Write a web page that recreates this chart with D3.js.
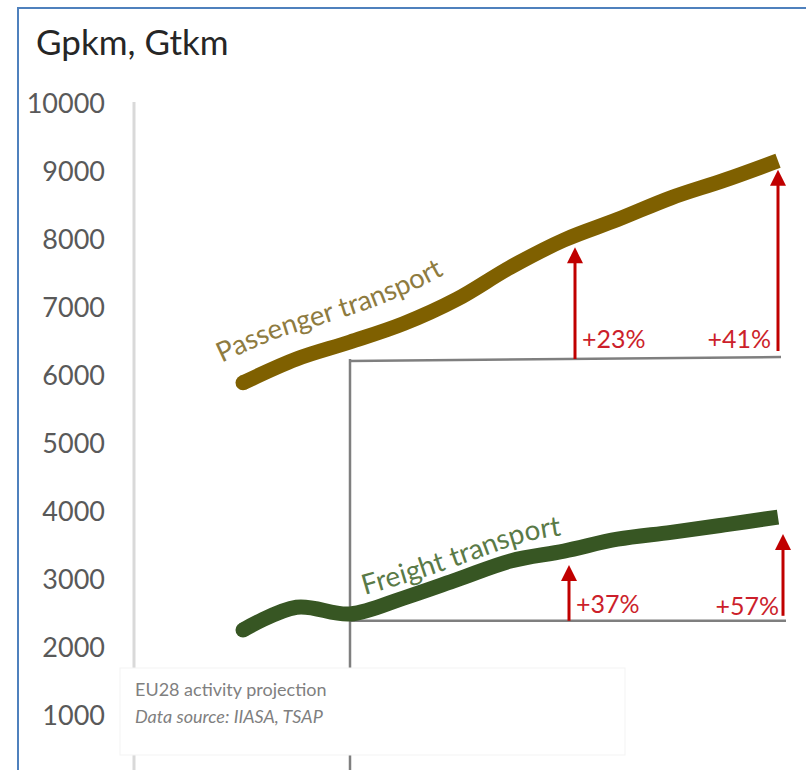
<!DOCTYPE html>
<html>
<head>
<meta charset="utf-8">
<script src="https://cdn.jsdelivr.net/npm/d3@7"></script>
<style>
  body { margin: 0; background: #fff; }
  svg { display: block; }
  text { font-family: Lato, "Open Sans", sans-serif; }
</style>
</head>
<body>
<svg id="chart" width="806" height="770"></svg>
<script>
// ---- data -------------------------------------------------------------
const years = [2000, 2005, 2010, 2015, 2020, 2025, 2030, 2035, 2040, 2045, 2050];
const passenger = [5900, 6250, 6500, 6770, 7130, 7600, 8000, 8300, 8620, 8880, 9165]; // Gpkm
const freight   = [2265, 2600, 2500, 2735, 3005, 3280, 3425, 3600, 3700, 3810, 3925]; // Gtkm
const yTicks = [1000, 2000, 3000, 4000, 5000, 6000, 7000, 8000, 9000, 10000];

const baseYear = 2010;
const targetYears = [2030, 2050];
const passengerGrowth = [0.23, 0.41];
const freightGrowth = [0.37, 0.57];
const passengerGuide = 6250;   // level of the grey reference line under the passenger curve
const freightGuide = 2400;     // level of the grey reference line under the freight curve

const unitTitle = "Gpkm, Gtkm";
const seriesNames = ["Passenger transport", "Freight transport"];
const noteLines = ["EU28 activity projection", "Data source: IIASA, TSAP"];

// ---- setup ------------------------------------------------------------
const svg = d3.select("#chart");
const x = d3.scaleLinear().domain([2000, 2050]).range([243, 778]);
const y = d3.scaleLinear().domain([0, 10000]).range([784, 104]);

const colors = { passenger: "#7f6000", freight: "#375623",
                 passengerText: "#8e7b40", freightText: "#5a7a47",
                 arrow: "#c00000", guide: "#7f7f7f" };

const passData = years.map((yr, i) => ({ year: yr, v: passenger[i] }));
const freightData = years.map((yr, i) => ({ year: yr, v: freight[i] }));

// outer frame
svg.append("line").attr("x1", 18).attr("x2", 18).attr("y1", 8).attr("y2", 770)
   .attr("stroke", "#4f81bd").attr("stroke-width", 2);
svg.append("line").attr("x1", 17).attr("x2", 806).attr("y1", 8).attr("y2", 8)
   .attr("stroke", "#4f81bd").attr("stroke-width", 2);

// unit title
svg.append("text").attr("x", 36).attr("y", 55)
   .attr("font-size", 35).attr("fill", "#262626").text(unitTitle);

// y axis
const axisG = svg.append("g").attr("transform", "translate(134,0)")
  .call(d3.axisLeft(y).tickValues(yTicks).tickSize(0).tickPadding(29).tickFormat(d3.format("d")));
axisG.select(".domain").attr("stroke", "#d9d9d9").attr("stroke-width", 3)
  .attr("d", `M0,${y(10000) - 2}V770`);
axisG.selectAll(".tick text").attr("font-size", 27).attr("fill", "#595959")
  .attr("font-family", "Lato, 'Open Sans', sans-serif");

// grey reference frame: vertical at the base year, horizontals at the guide levels
const xBase = x(baseYear);
svg.append("line").attr("x1", xBase).attr("x2", xBase)
   .attr("y1", y(passengerGuide)).attr("y2", 770)
   .attr("stroke", colors.guide).attr("stroke-width", 2.5);
svg.append("line").attr("x1", xBase - 1).attr("x2", x(2050) + 3)
   .attr("y1", y(passengerGuide) + 2).attr("y2", y(passengerGuide) - 2)
   .attr("stroke", colors.guide).attr("stroke-width", 2.5);
svg.append("line").attr("x1", xBase).attr("x2", x(2050) + 8)
   .attr("y1", y(freightGuide)).attr("y2", y(freightGuide))
   .attr("stroke", colors.guide).attr("stroke-width", 2.5);

// series lines
const line = d3.line().x(d => x(d.year)).y(d => y(d.v)).curve(d3.curveCatmullRom.alpha(0.5));
[[passData, colors.passenger], [freightData, colors.freight]].forEach(([data, c]) => {
  svg.append("path").attr("d", line(data)).attr("fill", "none")
     .attr("stroke", c).attr("stroke-width", 15).attr("stroke-linecap", "butt")
     .attr("stroke-linejoin", "round");
  svg.append("circle").attr("cx", x(data[0].year)).attr("cy", y(data[0].v))
     .attr("r", 7.5).attr("fill", c);
});

// labels running along the curves
function curveLabel(id, data, dx, dy, label, color, targetWidth) {
  const guide = d3.line().x(d => x(d.year) + dx).y(d => y(d.v) + dy)
                  .curve(d3.curveCatmullRom.alpha(0.5));
  svg.append("defs").append("path").attr("id", id).attr("d", guide(data));
  const t = svg.append("text").attr("font-size", 24).attr("fill", color);
  t.append("textPath").attr("href", "#" + id).text(label);
  const w = t.node().getComputedTextLength();
  t.attr("font-size", 24 * targetWidth / w);
}
curveLabel("passPath", passData.slice(0, 7), -21, -20, seriesNames[0], colors.passengerText, 240);
curveLabel("freightPath", freightData.slice(2, 8), 15, -19, seriesNames[1], colors.freightText, 206);

// growth arrows
function arrow(xa, yBottom, yTip) {
  const head = 16, half = 8;
  svg.append("line").attr("x1", xa).attr("x2", xa).attr("y1", yBottom).attr("y2", yTip + head - 2)
     .attr("stroke", colors.arrow).attr("stroke-width", 3);
  svg.append("path")
     .attr("d", `M${xa},${yTip}L${xa + half},${yTip + head}L${xa - half},${yTip + head}Z`)
     .attr("fill", colors.arrow);
}
function growthLabel(xa, yb, txt, anchor) {
  svg.append("text").attr("x", xa).attr("y", yb).attr("text-anchor", anchor)
     .attr("font-size", 25).attr("fill", "#cc1f2b").text(txt);
}
const pct = g => "+" + Math.round(g * 100) + "%";
const passBase = passenger[years.indexOf(baseYear)];
const freightBase = freight[years.indexOf(baseYear)];

// passenger arrows
{
  const gy = y(passengerGuide);
  const xa1 = x(targetYears[0]) + 11, xa2 = x(targetYears[1]);
  arrow(xa1, gy, y(passBase * (1 + passengerGrowth[0])) + 7);
  arrow(xa2, gy - 8, y(passBase * (1 + passengerGrowth[1])) + 9);
  growthLabel(xa1 + 7, gy - 11, pct(passengerGrowth[0]), "start");
  growthLabel(xa2 - 7, gy - 11, pct(passengerGrowth[1]), "end");
}
// freight arrows
{
  const gy = y(freightGuide);
  const xa1 = x(targetYears[0]) + 5, xa2 = x(targetYears[1]) + 5;
  arrow(xa1, gy, y(freightBase * (1 + freightGrowth[0])) + 14);
  arrow(xa2, gy - 5, y(freightBase * (1 + freightGrowth[1])) + 17);
  growthLabel(xa1 + 7, gy - 8, pct(freightGrowth[0]), "start");
  growthLabel(xa2 - 4, gy - 6, pct(freightGrowth[1]), "end");
}

// note box
svg.append("rect").attr("x", 120).attr("y", 668).attr("width", 505).attr("height", 87)
   .attr("fill", "#fff").attr("stroke", "#f3f3f3").attr("stroke-width", 1);
svg.append("text").attr("x", 135).attr("y", 696).attr("font-size", 18).attr("fill", "#7f7f7f")
   .text(noteLines[0]);
svg.append("text").attr("x", 135).attr("y", 723).attr("font-size", 18).attr("fill", "#7f7f7f")
   .attr("font-style", "italic").text(noteLines[1]);
</script>
</body>
</html>
